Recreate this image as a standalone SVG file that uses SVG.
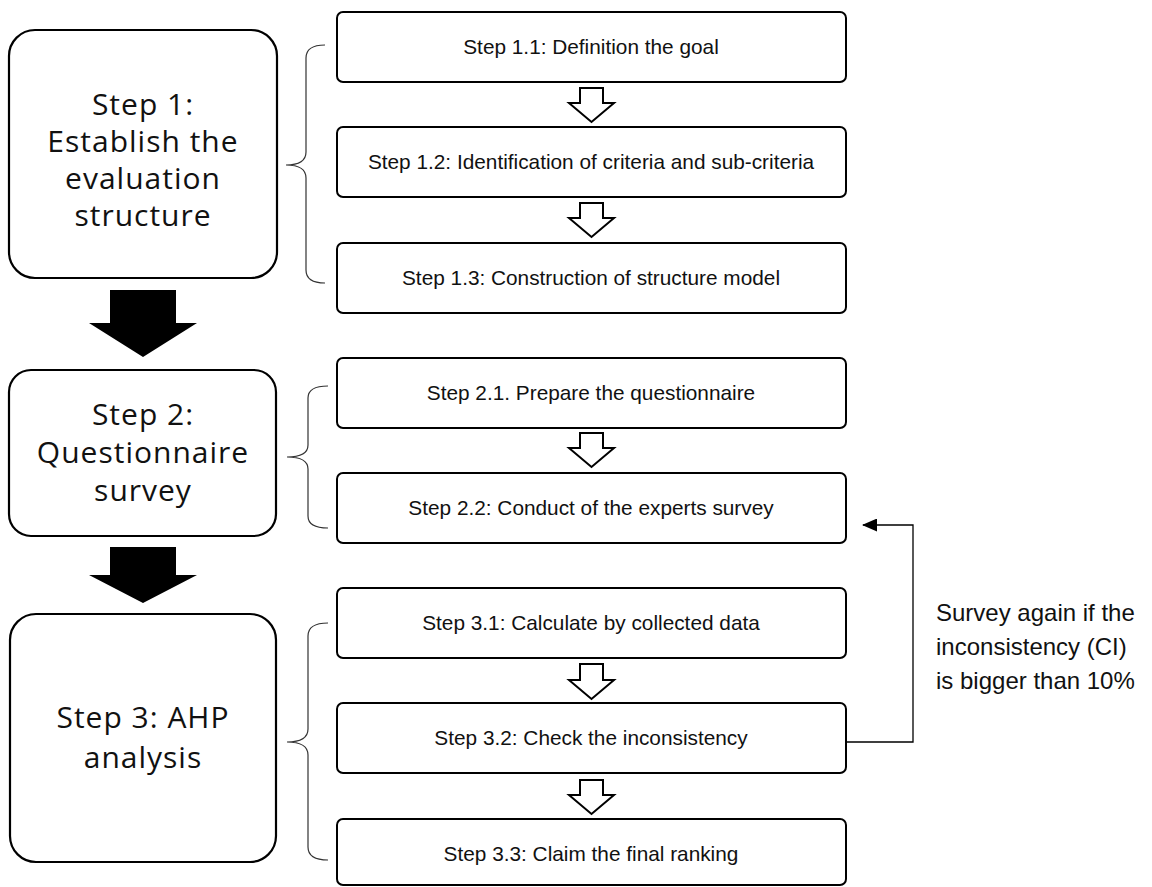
<svg xmlns="http://www.w3.org/2000/svg" width="1152" height="887" viewBox="0 0 1152 887">
<style>
.big{fill:#fff;stroke:#000;stroke-width:2.2}
.box{fill:#fff;stroke:#000;stroke-width:2}
.bt{font-family:"Open Sans","Noto Sans",sans-serif;font-size:30px;letter-spacing:1px;fill:#111;text-anchor:middle}
.st{font-family:"Liberation Sans",Arial,sans-serif;font-size:20.8px;fill:#111;text-anchor:middle}
.nt{font-family:"Liberation Sans",Arial,sans-serif;font-size:24px;fill:#111}
.hollow{fill:#fff;stroke:#000;stroke-width:2;stroke-linejoin:miter}
.solid{fill:#000}
.brace{fill:none;stroke:#333;stroke-width:1.2}
.line{fill:none;stroke:#000;stroke-width:1.3}
</style>
<defs>
<marker id="ah" markerWidth="15" markerHeight="13" refX="14" refY="6.5" orient="auto" markerUnits="userSpaceOnUse">
<path d="M0,0 L15,6.5 L0,13 Z" fill="#000"/>
</marker>
</defs>
<rect width="1152" height="887" fill="#fff"/>

<g id="step1">
<rect class="big" x="9" y="30" width="268" height="248" rx="26"/>
<text class="bt" x="143" y="115">Step 1:</text>
<text class="bt" x="143" y="152">Establish the</text>
<text class="bt" x="143" y="189">evaluation</text>
<text class="bt" x="143" y="226">structure</text>
</g>
<g id="step2">
<rect class="big" x="9" y="370" width="267" height="166" rx="22"/>
<text class="bt" x="143" y="425">Step 2:</text>
<text class="bt" x="143" y="463">Questionnaire</text>
<text class="bt" x="143" y="501">survey</text>
</g>
<g id="step3">
<rect class="big" x="10" y="614" width="266" height="248" rx="26"/>
<text class="bt" x="143" y="728">Step 3: AHP</text>
<text class="bt" x="143" y="768">analysis</text>
</g>

<g id="step1-1"><rect class="box" x="337" y="12" width="509" height="70" rx="6"/><text class="st" x="591" y="54">Step 1.1: Definition the goal</text></g>
<g id="step1-2"><rect class="box" x="337" y="127" width="509" height="70" rx="6"/><text class="st" x="591" y="169">Step 1.2: Identification of criteria and sub-criteria</text></g>
<g id="step1-3"><rect class="box" x="337" y="243" width="509" height="70" rx="6"/><text class="st" x="591" y="285">Step 1.3: Construction of structure model</text></g>
<g id="step2-1"><rect class="box" x="337" y="358" width="509" height="70" rx="6"/><text class="st" x="591" y="400">Step 2.1. Prepare the questionnaire</text></g>
<g id="step2-2"><rect class="box" x="337" y="473" width="509" height="70" rx="6"/><text class="st" x="591" y="515">Step 2.2: Conduct of the experts survey</text></g>
<g id="step3-1"><rect class="box" x="337" y="588" width="509" height="70" rx="6"/><text class="st" x="591" y="630">Step 3.1: Calculate by collected data</text></g>
<g id="step3-2"><rect class="box" x="337" y="703" width="509" height="70" rx="6"/><text class="st" x="591" y="745">Step 3.2: Check the inconsistency</text></g>
<g id="step3-3"><rect class="box" x="337" y="819" width="509" height="66" rx="6"/><text class="st" x="591" y="861">Step 3.3: Claim the final ranking</text></g>

<g id="note">
<text class="nt" x="936" y="621">Survey again if the</text>
<text class="nt" x="936" y="655">inconsistency (CI)</text>
<text class="nt" x="936" y="689">is bigger than 10%</text>
</g>

<g id="connectors">
<path class="solid" d="M110,290 H176 V323 H197 L143,357 L89,323 H110 Z"/>
<path class="solid" d="M110,547 H176 V575 H197 L143,603 L89,575 H110 Z"/>
<path class="hollow" d="M580,88 H603 V103 H614 L591.5,122 L569,103 H580 Z"/>
<path class="hollow" d="M580,203 H603 V218 H614 L591.5,237 L569,218 H580 Z"/>
<path class="hollow" d="M580,433 H603 V448 H614 L591.5,467 L569,448 H580 Z"/>
<path class="hollow" d="M580,664 H603 V680 H614 L591.5,699 L569,680 H580 Z"/>
<path class="hollow" d="M580,780 H603 V795 H614 L591.5,814 L569,795 H580 Z"/>
<path class="brace" d="M325,45 Q306,45 306,58 L306,152 Q306,165 286,165 Q306,165 306,178 L306,270 Q306,283 325,283"/>
<path class="brace" d="M328,386 Q308,386 308,398 L308,445 Q308,457 287,457 Q308,457 308,469 L308,516 Q308,528 328,528"/>
<path class="brace" d="M328,623 Q308,623 308,636 L308,729 Q308,742 287,742 Q308,742 308,755 L308,847 Q308,860 328,860"/>
<path class="line" d="M846,742 H913 V525 H863" marker-end="url(#ah)"/>
</g>
</svg>
